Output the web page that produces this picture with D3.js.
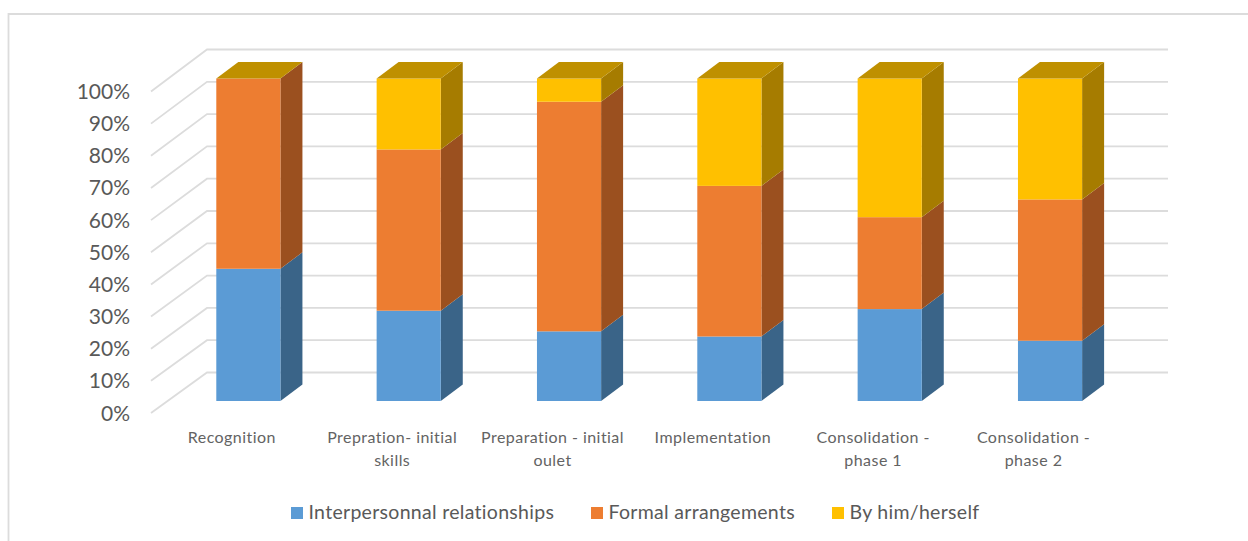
<!DOCTYPE html>
<html><head><meta charset="utf-8">
<script src="https://cdn.jsdelivr.net/npm/d3@7/dist/d3.min.js"></script>
<style>html,body{margin:0;padding:0;background:#fff}svg{display:block}text{font-family:Lato,"Open Sans",sans-serif}</style>
</head><body><svg id="c" width="1248" height="541"></svg>
<script>
const categories=[["Recognition"],["Prepration- initial","skills"],["Preparation - initial","oulet"],["Implementation"],["Consolidation -","phase 1"],["Consolidation -","phase 2"]];
const interpersonal=[41,28,21.6,20,28.5,18.7];
const formal=[59,50,71.2,46.7,28.5,43.8];
const self=[0,22,7.2,33.3,43,37.5];
const seriesNames=["Interpersonnal relationships","Formal arrangements","By him/herself"];
const frontColors=["#5B9BD5","#ED7D31","#FFC000"];
const sideColors=["#3A6488","#9B501F","#A67C00"];
const topColor="#BF9000";
const yTicks=[0,10,20,30,40,50,60,70,80,90,100];

const svg=d3.select("#c");
const dx=22,dy=16.5;
const y=d3.scaleLinear().domain([0,100]).range([401,78.5]);
const x=d3.scaleBand().domain(d3.range(categories.length)).range([168.2,1130.2]).paddingInner(.6).paddingOuter(.3);
const gridY=d3.scaleLinear().domain([0,100]).range([372.5,49.5]);
const gridFrontY=d3.scaleLinear().domain([0,100]).range([413,91.5]);
const grid="#DCDCDC";

svg.append("path").attr("d","M8.5,541V14H1248").attr("fill","none").attr("stroke",grid).attr("stroke-width",1.8);

svg.append("g").selectAll("path").data(yTicks).join("path")
 .attr("d",d=>`M151,${gridFrontY(d)}L207,${gridY(d)}H1168`)
 .attr("fill","none").attr("stroke",grid).attr("stroke-width",1.8);

svg.append("g").selectAll("text").data(yTicks).join("text")
 .attr("x",130).attr("y",d=>gridFrontY(d)+7.5).attr("text-anchor","end")
 .attr("font-size",21).attr("fill","#595959").text(d=>d+"%");

const rows=categories.map((c,i)=>({i,a:interpersonal[i],b:formal[i],c:self[i]}));
const stacked=d3.stack().keys(["a","b","c"])(rows);

const bars=svg.append("g");
stacked.forEach((layer,k)=>{
 const g=bars.append("g");
 g.selectAll("path.side").data(layer.filter(d=>d[1]>d[0])).join("path").attr("class","side")
  .attr("fill",sideColors[k])
  .attr("d",d=>{const r=x(d.data.i)+x.bandwidth();return `M${r},${y(d[0])}L${r+dx},${y(d[0])-dy}V${y(d[1])-dy}L${r},${y(d[1])}Z`;});
 g.selectAll("rect").data(layer.filter(d=>d[1]>d[0])).join("rect")
  .attr("x",d=>x(d.data.i)).attr("width",x.bandwidth())
  .attr("y",d=>y(d[1])).attr("height",d=>y(d[0])-y(d[1])).attr("fill",frontColors[k]);
});
bars.append("g").selectAll("path").data(rows).join("path").attr("fill",topColor)
 .attr("d",d=>{const l=x(d.i),r=l+x.bandwidth(),t=y(100);return `M${l},${t}L${l+dx},${t-dy}H${r+dx}L${r},${t}Z`;});

const labels=svg.append("g").selectAll("text").data(categories).join("text")
 .attr("text-anchor","middle").attr("font-size",16).attr("letter-spacing",.45).attr("fill","#636363")
 .attr("transform",(d,i)=>`translate(${x(i)+x.bandwidth()/2-16.5},0)`);
labels.selectAll("tspan").data(d=>d).join("tspan").attr("x",0).attr("y",(d,j)=>443+j*23).text(d=>d);

const legendX=[291,591,832];
const lg=svg.append("g").selectAll("g").data(seriesNames).join("g").attr("transform",(d,i)=>`translate(${legendX[i]},507)`);
lg.append("rect").attr("width",12).attr("height",12).attr("fill",(d,i)=>frontColors[i]);
lg.append("text").attr("x",17.5).attr("y",12).attr("font-size",19.5).attr("letter-spacing",.3).attr("fill","#595959").text(d=>d);
</script></body></html>
